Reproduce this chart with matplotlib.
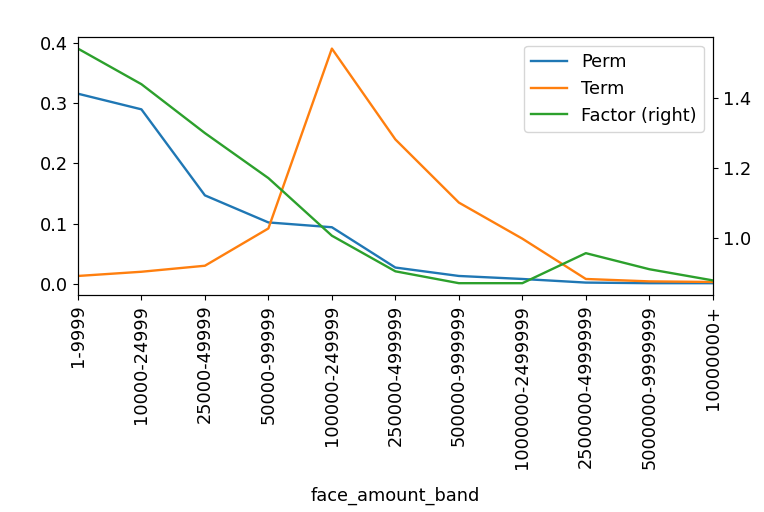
import matplotlib.pyplot as plt
import numpy as np

bands = ["1-9999", "10000-24999", "25000-49999", "50000-99999", "100000-249999",
         "250000-499999", "500000-999999", "1000000-2499999", "2500000-4999999",
         "5000000-9999999", "10000000+"]
perm = [0.316, 0.290, 0.147, 0.102, 0.094, 0.027, 0.013, 0.008, 0.002, 0.001, 0.001]
term = [0.013, 0.020, 0.030, 0.092, 0.391, 0.240, 0.135, 0.075, 0.008, 0.004, 0.003]
factor = [1.542, 1.440, 1.300, 1.171, 1.006, 0.904, 0.870, 0.870, 0.956, 0.910, 0.878]

plt.rcParams['font.size'] = 12.8

fig = plt.figure(figsize=(7.64, 5.12), dpi=100)
ax = fig.add_axes([0.102, 0.424, 0.831, 0.504])
x = np.arange(len(bands))
l1, = ax.plot(x, perm, color='#1f77b4', lw=1.7, label='Perm')
l2, = ax.plot(x, term, color='#ff7f0e', lw=1.7, label='Term')
ax2 = ax.twinx()
l3, = ax2.plot(x, factor, color='#2ca02c', lw=1.7, label='Factor (right)')

ax.set_xlim(0, len(bands) - 1)
ax.set_xticks(x)
ax.set_xticklabels(bands, rotation=90)
ax.set_xlabel('face_amount_band', labelpad=13)
ax.set_yticks([0.0, 0.1, 0.2, 0.3, 0.4])
ax2.set_yticks([1.0, 1.2, 1.4])

ax2.legend([l1, l2, l3], ['Perm', 'Term', 'Factor (right)'], loc='upper right')

fig.savefig('out.png')
